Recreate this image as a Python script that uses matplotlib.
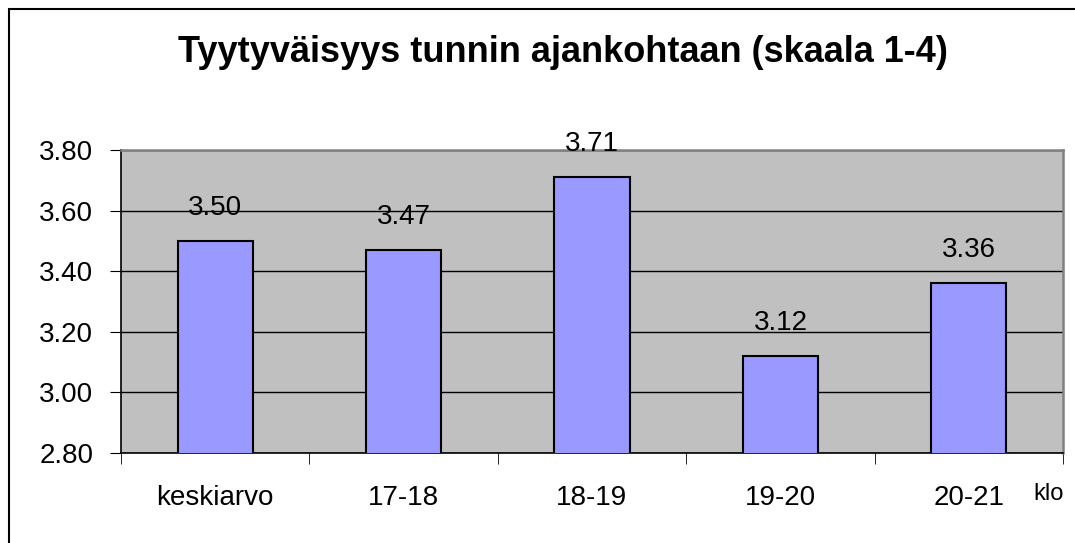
import matplotlib.pyplot as plt
from matplotlib.patches import Rectangle
import numpy as np

plt.rcParams['font.family'] = ['Liberation Sans', 'DejaVu Sans']

categories = ["keskiarvo", "17-18", "18-19", "19-20", "20-21"]
values = [3.50, 3.47, 3.71, 3.12, 3.36]
yticks = [2.80, 3.00, 3.20, 3.40, 3.60, 3.80]

fig = plt.figure(figsize=(10.75, 5.43), dpi=100)
# outer chart border (cut by the image at right and bottom)
fig.patches.append(Rectangle((9 / 1075, -0.1), 1.2, 1 - 9 / 543 + 0.1,
                             transform=fig.transFigure, fill=False,
                             edgecolor='black', linewidth=1.5))

ax = fig.add_axes([121 / 1075, 1 - 453 / 543, (1063 - 121) / 1075, (453 - 150) / 543])
ax.set_facecolor('#c0c0c0')

x = np.arange(len(categories))
bars = ax.bar(x, values, width=0.4, color='#9999ff', edgecolor='black',
              linewidth=1.5, zorder=3)

for xi, v in zip(x, values):
    ax.annotate(f"{v:.2f}", (xi, v), xytext=(0, 24), textcoords='offset points',
                ha='center', va='center', fontsize=20, zorder=4)

ax.set_ylim(2.80, 3.80)
ax.set_xlim(-0.5, 4.5)
ax.set_yticks(yticks)
ax.set_yticklabels([f"{t:.2f}" for t in yticks], fontsize=20)
ax.yaxis.grid(True, color='black', linewidth=1)
ax.set_axisbelow(True)

ax.set_xticks(x)
ax.set_xticklabels(categories, fontsize=20)
ax.set_xticks(np.arange(-0.5, 5, 1), minor=True)
ax.tick_params(axis='x', which='major', length=0, pad=23)
ax.tick_params(axis='x', which='minor', length=8, direction='out', color='black')
ax.tick_params(axis='y', length=8, direction='out', pad=12)

for side in ['top', 'right']:
    ax.spines[side].set_color('#808080')
    ax.spines[side].set_linewidth(1.8)
ax.spines['left'].set_color('black')
ax.spines['bottom'].set_color('black')
ax.spines['left'].set_linewidth(1.2)
ax.spines['bottom'].set_linewidth(1.2)

fig.text(1049 / 1075, 1 - 494 / 543, "klo", fontsize=17, ha='center', va='center')
fig.text(563 / 1075, 1 - 52 / 543, "Tyytyväisyys tunnin ajankohtaan (skaala 1-4)",
         fontsize=26, fontweight='bold', ha='center', va='center')

fig.savefig("out.png", dpi=100)
